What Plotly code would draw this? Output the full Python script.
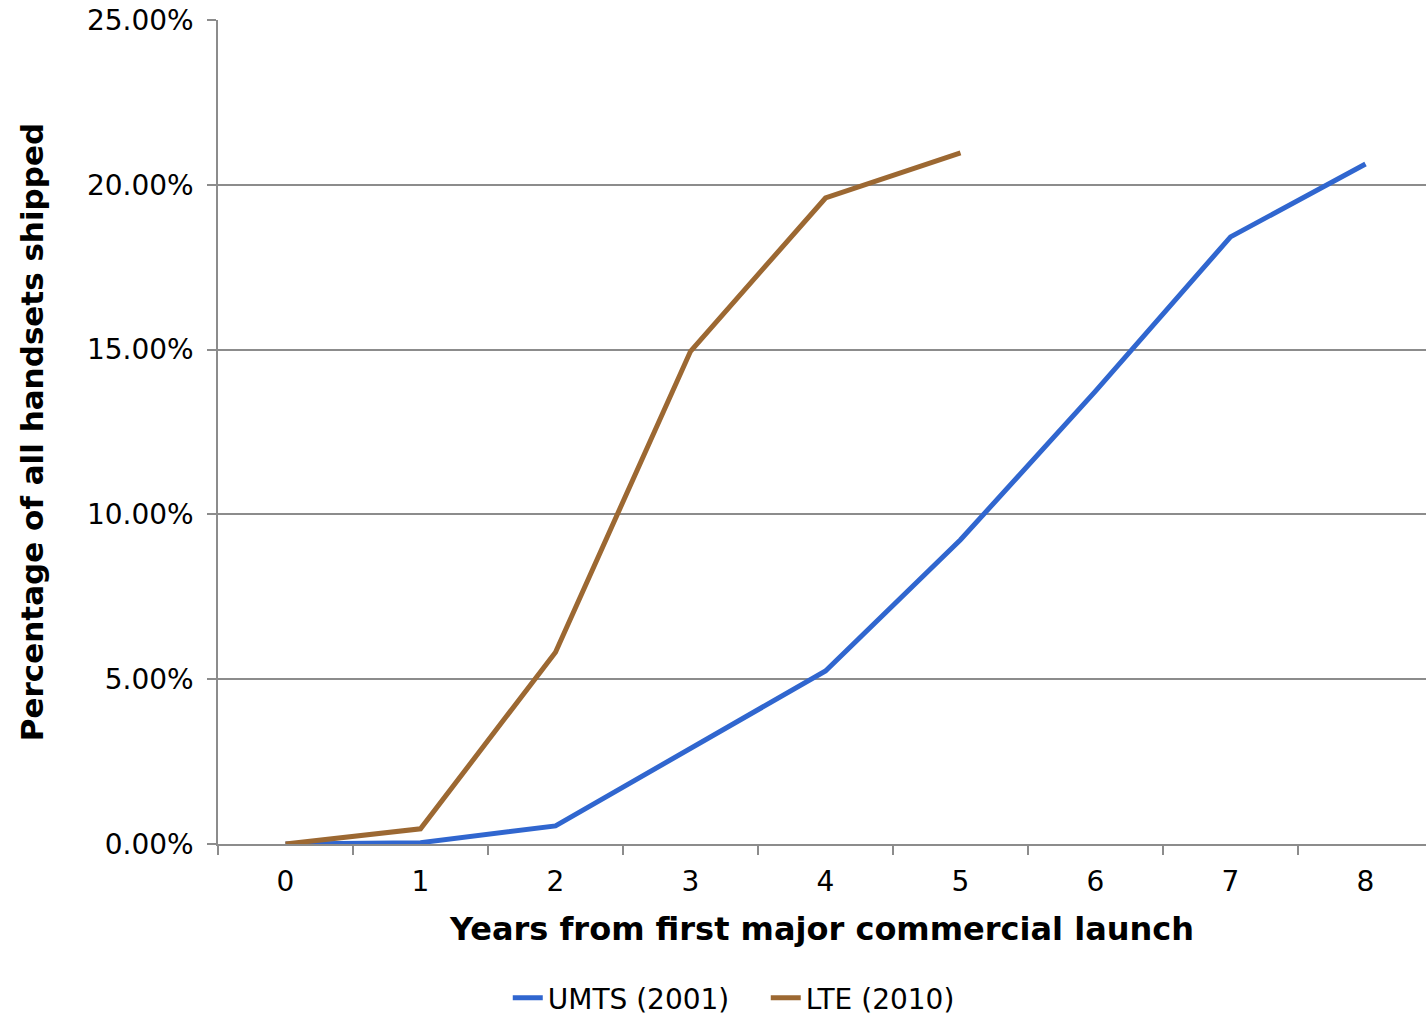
import plotly.graph_objects as go

# Years since first major commercial launch
years = ["0", "1", "2", "3", "4", "5", "6", "7", "8"]

# Share of all handsets shipped (fraction)
umts_2001 = [0.0, 0.0004, 0.0055, 0.0291, 0.0525, 0.0923, 0.1374, 0.1842, 0.2063]
lte_2010 = [0.0, 0.0046, 0.0582, 0.1495, 0.1960, 0.2097]

y_ticks = [0.0, 0.05, 0.10, 0.15, 0.20, 0.25]

FONT = "DejaVu Sans, Verdana, sans-serif"
GRID = "#8c8c8c"

fig = go.Figure()
fig.add_trace(go.Scatter(
    x=years, y=umts_2001, name="UMTS (2001)", mode="lines",
    line=dict(color="#3066cf", width=5),
))
fig.add_trace(go.Scatter(
    x=years[:len(lte_2010)], y=lte_2010, name="LTE (2010)", mode="lines",
    line=dict(color="#9c6832", width=5),
))

fig.update_layout(
    width=1426, height=1015,
    margin=dict(l=218, r=0, t=20, b=171),
    paper_bgcolor="white", plot_bgcolor="white",
    font=dict(family=FONT, size=28, color="black"),
    showlegend=True,
    legend=dict(
        orientation="h", xref="container", yref="container",
        x=0.537, xanchor="center", y=0.0167, yanchor="middle",
        font=dict(size=28), tracegroupgap=0,
        entrywidth=213, entrywidthmode="pixels",
    ),
    xaxis=dict(
        type="category", range=[-0.5, 8.448], tickson="boundaries",
        ticks="outside", ticklen=9, tickwidth=1.5, tickcolor=GRID,
        showline=True, linecolor=GRID, linewidth=1.5,
        showgrid=False, zeroline=False,
        tickfont=dict(size=28), ticklabelstandoff=12,
        title=dict(text="<b>Years from first major commercial launch</b>",
                   font=dict(size=32), standoff=20),
    ),
    yaxis=dict(
        range=[0, 0.25], tickvals=y_ticks, tickformat=".2%",
        ticks="outside", ticklen=9, tickwidth=1.5, tickcolor=GRID,
        showline=True, linecolor=GRID, linewidth=1.5,
        showgrid=True, gridcolor=GRID, gridwidth=1.5,
        zeroline=False, tickfont=dict(size=28), ticklabelstandoff=8,
        title=dict(text="<b>Percentage of all handsets shipped</b>",
                   font=dict(size=31), standoff=34),
    ),
)

fig.write_html("out.html")
